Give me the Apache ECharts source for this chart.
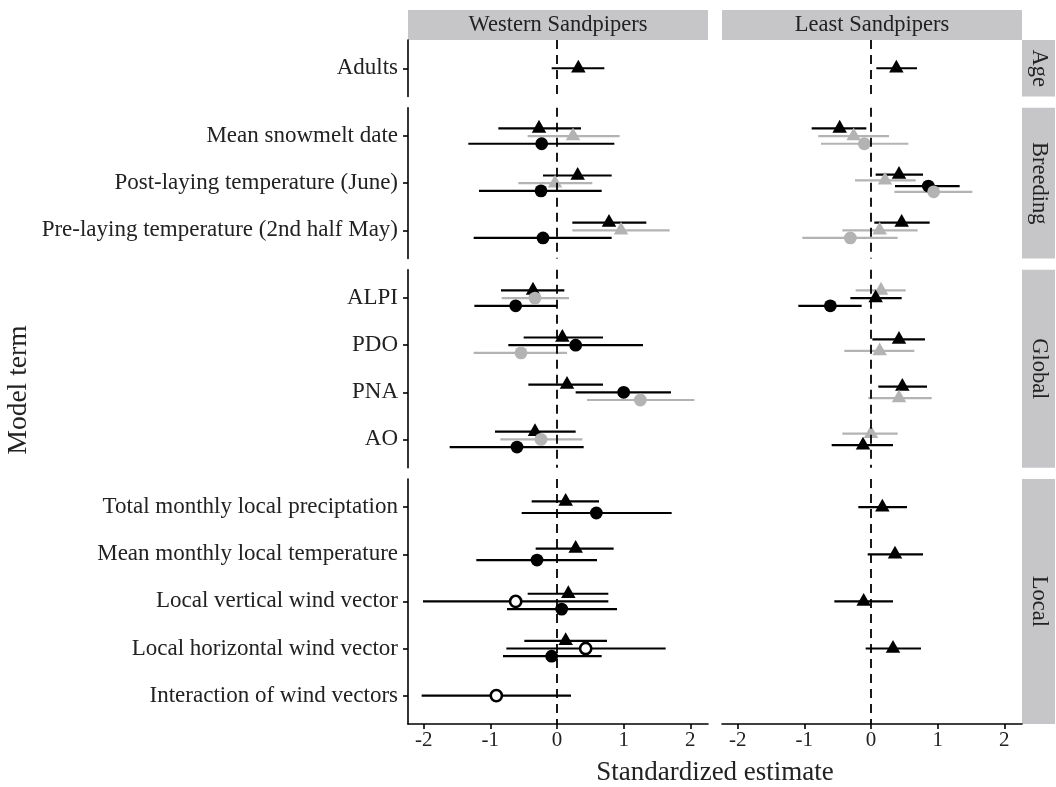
<!DOCTYPE html>
<html><head><meta charset="utf-8">
<script src="https://cdn.jsdelivr.net/npm/echarts@6/dist/echarts.min.js"></script>
<style>html,body{margin:0;padding:0;background:#fff}#c{width:1056px;height:787px}</style>
</head><body><div id="c"></div>
<script>
const speciesNames = ['Western Sandpipers', 'Least Sandpipers'];
const termGroups = ['Age', 'Breeding', 'Global', 'Local'];
const ageTerms = ['Adults'];
const breedingTerms = ['Mean snowmelt date', 'Post-laying temperature (June)', 'Pre-laying temperature (2nd half May)'];
const globalTerms = ['ALPI', 'PDO', 'PNA', 'AO'];
const localTerms = ['Total monthly local preciptation', 'Mean monthly local temperature', 'Local vertical wind vector', 'Local horizontal wind vector', 'Interaction of wind vectors'];
const xTicks = [-2, -1, 0, 1, 2];
const xRange = [-2.235, 2.265];
const xTitle = 'Standardized estimate';
const yTitle = 'Model term';

// [term, marker, estimate, lower, upper] in dodge order within each term
const westernEstimates = [
  ['Adults', 'triBlack', 0.32, -0.08, 0.71],
  ['Mean snowmelt date', 'triBlack', -0.27, -0.88, 0.36],
  ['Mean snowmelt date', 'triGrey', 0.24, -0.44, 0.94],
  ['Mean snowmelt date', 'dotBlack', -0.23, -1.33, 0.86],
  ['Post-laying temperature (June)', 'triBlack', 0.31, -0.21, 0.82],
  ['Post-laying temperature (June)', 'triGrey', -0.03, -0.58, 0.53],
  ['Post-laying temperature (June)', 'dotBlack', -0.24, -1.17, 0.67],
  ['Pre-laying temperature (2nd half May)', 'triBlack', 0.78, 0.23, 1.34],
  ['Pre-laying temperature (2nd half May)', 'triGrey', 0.96, 0.23, 1.69],
  ['Pre-laying temperature (2nd half May)', 'dotBlack', -0.21, -1.25, 0.82],
  ['ALPI', 'triBlack', -0.36, -0.84, 0.11],
  ['ALPI', 'dotGrey', -0.33, -0.83, 0.18],
  ['ALPI', 'dotBlack', -0.62, -1.24, 0.00],
  ['PDO', 'triBlack', 0.08, -0.50, 0.69],
  ['PDO', 'dotBlack', 0.28, -0.73, 1.29],
  ['PDO', 'dotGrey', -0.54, -1.25, 0.15],
  ['PNA', 'triBlack', 0.15, -0.43, 0.69],
  ['PNA', 'dotBlack', 1.00, 0.28, 1.71],
  ['PNA', 'dotGrey', 1.25, 0.45, 2.06],
  ['AO', 'triBlack', -0.33, -0.93, 0.28],
  ['AO', 'dotGrey', -0.24, -0.85, 0.38],
  ['AO', 'dotBlack', -0.60, -1.61, 0.40],
  ['Total monthly local preciptation', 'triBlack', 0.13, -0.38, 0.63],
  ['Total monthly local preciptation', 'dotBlack', 0.59, -0.53, 1.72],
  ['Mean monthly local temperature', 'triBlack', 0.28, -0.32, 0.85],
  ['Mean monthly local temperature', 'dotBlack', -0.30, -1.21, 0.60],
  ['Local vertical wind vector', 'triBlack', 0.17, -0.44, 0.77],
  ['Local vertical wind vector', 'ringBlack', -0.62, -2.01, 0.77],
  ['Local vertical wind vector', 'dotBlack', 0.07, -0.75, 0.90],
  ['Local horizontal wind vector', 'triBlack', 0.13, -0.49, 0.75],
  ['Local horizontal wind vector', 'ringBlack', 0.43, -0.76, 1.63],
  ['Local horizontal wind vector', 'dotBlack', -0.08, -0.81, 0.67],
  ['Interaction of wind vectors', 'ringBlack', -0.91, -2.03, 0.21]
];
const leastEstimates = [
  ['Adults', 'triBlack', 0.38, 0.08, 0.69],
  ['Mean snowmelt date', 'triBlack', -0.47, -0.89, -0.07],
  ['Mean snowmelt date', 'triGrey', -0.26, -0.79, 0.27],
  ['Mean snowmelt date', 'dotGrey', -0.10, -0.75, 0.56],
  ['Post-laying temperature (June)', 'triBlack', 0.42, 0.07, 0.78],
  ['Post-laying temperature (June)', 'triGrey', 0.21, -0.24, 0.67],
  ['Post-laying temperature (June)', 'dotBlack', 0.86, 0.36, 1.33],
  ['Post-laying temperature (June)', 'dotGrey', 0.94, 0.35, 1.52],
  ['Pre-laying temperature (2nd half May)', 'triBlack', 0.46, 0.05, 0.88],
  ['Pre-laying temperature (2nd half May)', 'triGrey', 0.13, -0.43, 0.70],
  ['Pre-laying temperature (2nd half May)', 'dotGrey', -0.31, -1.03, 0.40],
  ['ALPI', 'triGrey', 0.15, -0.23, 0.52],
  ['ALPI', 'triBlack', 0.07, -0.31, 0.46],
  ['ALPI', 'dotBlack', -0.61, -1.09, -0.14],
  ['PDO', 'triBlack', 0.42, 0.02, 0.81],
  ['PDO', 'triGrey', 0.13, -0.40, 0.65],
  ['PNA', 'triBlack', 0.47, 0.11, 0.84],
  ['PNA', 'triGrey', 0.42, -0.04, 0.91],
  ['AO', 'triGrey', 0.00, -0.43, 0.40],
  ['AO', 'triBlack', -0.12, -0.59, 0.33],
  ['Total monthly local preciptation', 'triBlack', 0.17, -0.19, 0.54],
  ['Mean monthly local temperature', 'triBlack', 0.36, -0.05, 0.78],
  ['Local vertical wind vector', 'triBlack', -0.11, -0.55, 0.33],
  ['Local horizontal wind vector', 'triBlack', 0.33, -0.08, 0.75]
];

const termLists = [ageTerms, breedingTerms, globalTerms, localTerms];
const estimateTables = [westernEstimates, leastEstimates];

const FONT = "'Liberation Serif', 'Times New Roman', serif";
const TEXT = '#222';
const STRIP = '#c6c6c8';
const UNIT = 47.1, GAP = 11.3, TOP0 = 40;
const PANEL_LEFT = [408, 722], PANEL_W = 300;
const STRIP_W = 33;
const DODGE = 0.49;
const styles = {
  triBlack: { shape: 'tri', color: '#000' },
  triGrey: { shape: 'tri', color: '#b3b3b3' },
  dotBlack: { shape: 'dot', color: '#000' },
  dotGrey: { shape: 'dot', color: '#b3b3b3' },
  ringBlack: { shape: 'ring', color: '#000' }
};
const styleKeys = Object.keys(styles);

const grids = [], xAxes = [], yAxes = [], seriesList = [], graphics = [];
let panelTop = TOP0;
termLists.forEach((terms, g) => {
  const h = (terms.length + 0.2) * UNIT;
  const isBottom = g === termLists.length - 1;
  speciesNames.forEach((sp, s) => {
    const gi = grids.length;
    grids.push({ left: PANEL_LEFT[s], top: panelTop, width: PANEL_W, height: h });
    xAxes.push({
      type: 'value', gridIndex: gi, min: xRange[0], max: xRange[1], show: isBottom,
      axisLine: { show: true, onZero: false, lineStyle: { color: '#000', width: 1.6 } },
      axisTick: { show: true, customValues: xTicks, length: 5, lineStyle: { color: '#000', width: 1.6 } },
      axisLabel: { customValues: xTicks, fontFamily: FONT, fontSize: 21, color: TEXT, margin: 6 },
      splitLine: { show: false }
    });
    const idx = terms.map((t, i) => i);
    yAxes.push({
      type: 'value', gridIndex: gi, min: -0.6, max: terms.length - 0.4, inverse: true, show: s === 0,
      axisLine: { show: true, onZero: false, lineStyle: { color: '#000', width: 1.6 } },
      axisTick: { show: true, customValues: idx, length: 5, lineStyle: { color: '#000', width: 1.6 } },
      axisLabel: { customValues: idx, formatter: v => terms[Math.round(v)] || '', fontFamily: FONT, fontSize: 23, color: TEXT, margin: 10 },
      splitLine: { show: false }
    });
    const rows = estimateTables[s].filter(r => terms.includes(r[0]));
    const counts = {}, seen = {};
    rows.forEach(r => { counts[r[0]] = (counts[r[0]] || 0) + 1; });
    const data = rows.map(r => {
      const n = counts[r[0]];
      const k = seen[r[0]] = (seen[r[0]] === undefined ? 0 : seen[r[0]] + 1);
      const y = terms.indexOf(r[0]) + (k - (n - 1) / 2) * DODGE / n;
      return [r[2], r[3], r[4], y, styleKeys.indexOf(r[1])];
    });
    seriesList.push({
      type: 'line', xAxisIndex: gi, yAxisIndex: gi, data: [], z: 1, silent: true,
      markLine: { silent: true, symbol: ['none', 'none'], label: { show: false }, animation: false,
        lineStyle: { color: '#000', type: [9, 6], width: 1.8 }, data: [{ xAxis: 0 }] }
    });
    seriesList.push({
      type: 'custom', xAxisIndex: gi, yAxisIndex: gi, data: data, z: 2, silent: true,
      encode: { x: [0, 1, 2], y: 3 },
      renderItem: (params, api) => {
        const a = api.coord([api.value(1), api.value(3)]);
        const b = api.coord([api.value(2), api.value(3)]);
        const st = styles[styleKeys[api.value(4)]];
        return { type: 'line', shape: { x1: a[0], y1: a[1], x2: b[0], y2: b[1] }, style: { stroke: st.color, lineWidth: 2.2 } };
      }
    });
    seriesList.push({
      type: 'custom', xAxisIndex: gi, yAxisIndex: gi, data: data, z: 3, silent: true,
      encode: { x: 0, y: 3 },
      renderItem: (params, api) => {
        const p = api.coord([api.value(0), api.value(3)]);
        const st = styles[styleKeys[api.value(4)]];
        if (st.shape === 'tri') {
          const w = 14.5, th = 12.8;
          return { type: 'polygon', shape: { points: [[p[0], p[1] - th * 2 / 3], [p[0] + w / 2, p[1] + th / 3], [p[0] - w / 2, p[1] + th / 3]] }, style: { fill: st.color } };
        }
        if (st.shape === 'dot') {
          return { type: 'circle', shape: { cx: p[0], cy: p[1], r: 6.4 }, style: { fill: st.color } };
        }
        return { type: 'circle', shape: { cx: p[0], cy: p[1], r: 5.6 }, style: { fill: '#fff', stroke: st.color, lineWidth: 2.6 } };
      }
    });
  });
  graphics.push({ type: 'rect', shape: { x: PANEL_LEFT[1] + PANEL_W, y: panelTop, width: STRIP_W, height: h }, style: { fill: STRIP } });
  graphics.push({ type: 'text', x: PANEL_LEFT[1] + PANEL_W + STRIP_W / 2, y: panelTop + h / 2, rotation: -Math.PI / 2,
    style: { text: termGroups[g], fontFamily: FONT, fontSize: 22.5, fill: TEXT, align: 'center', verticalAlign: 'middle' } });
  panelTop += h + GAP;
});
speciesNames.forEach((sp, s) => {
  graphics.push({ type: 'rect', shape: { x: PANEL_LEFT[s], y: 10, width: PANEL_W, height: 30 }, style: { fill: STRIP } });
  graphics.push({ type: 'text', x: PANEL_LEFT[s] + PANEL_W / 2, y: 25,
    style: { text: sp, fontFamily: FONT, fontSize: 22.5, fill: TEXT, align: 'center', verticalAlign: 'middle' } });
});
graphics.push({ type: 'text', x: (PANEL_LEFT[0] + PANEL_LEFT[1] + PANEL_W) / 2, y: 773,
  style: { text: xTitle, fontFamily: FONT, fontSize: 27, fill: TEXT, align: 'center', verticalAlign: 'middle' } });
graphics.push({ type: 'text', x: 19, y: 390, rotation: Math.PI / 2,
  style: { text: yTitle, fontFamily: FONT, fontSize: 27.5, fill: TEXT, align: 'center', verticalAlign: 'middle' } });

const chart = echarts.init(document.getElementById('c'));
chart.setOption({
  animation: false,
  backgroundColor: '#fff',
  grid: grids,
  xAxis: xAxes,
  yAxis: yAxes,
  series: seriesList,
  graphic: graphics
});
</script></body></html>
